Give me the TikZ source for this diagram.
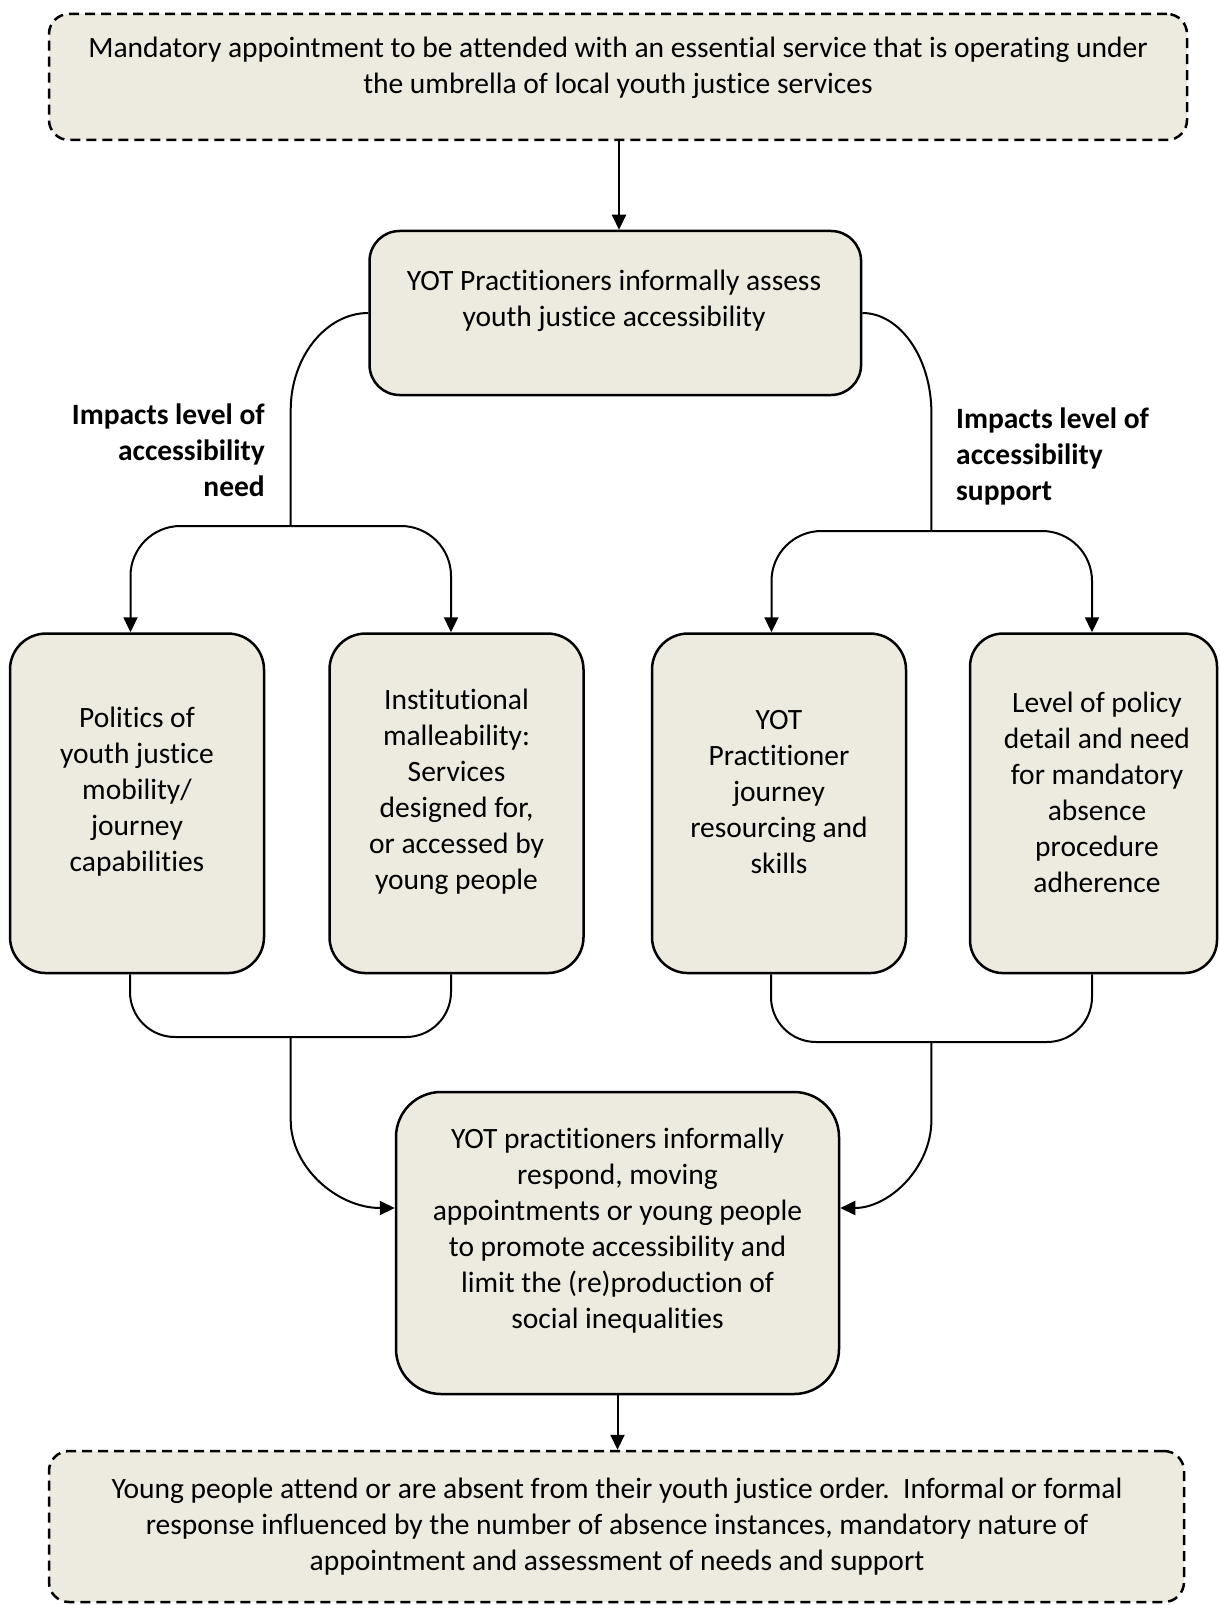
\documentclass[tikz,border=0pt]{standalone}
\usepackage{fontspec}
\setmainfont{Carlito}[Ligatures={NoCommon}]
\usetikzlibrary{arrows.meta}
\definecolor{boxfill}{RGB}{237,234,224}
\tikzset{
  boxbase/.style={draw=black, line width=2.5pt, fill=boxfill, inner sep=0pt},
  dashbox/.style={boxbase, rounded corners=20pt, dash pattern=on 10pt off 6pt},
  solidbox/.style={boxbase, rounded corners=#1},
  txt/.style={align=center, inner sep=0pt, font=\fontsize{29.5}{36}\selectfont},
  lbl/.style={inner sep=0pt, font=\bfseries\fontsize{29.5}{36}\selectfont},
  conn/.style={draw=black, line width=2pt},
  arr/.style={conn, -{Triangle[length=15pt,width=14pt]}},
}
\begin{document}
\begin{tikzpicture}[x=1pt,y=-1pt]
\useasboundingbox (0,0) rectangle (1219,1605);

% boxes
\node[dashbox, minimum width=1138pt, minimum height=126pt] (top) at (618,77) {};
\node[txt] (topT) at (618,67.5) {Mandatory appointment to be attended with an essential service that is operating under\\the umbrella of local youth justice services};

\node[solidbox=30pt, minimum width=491.5pt, minimum height=164pt] (assess) at (615.3,313) {};
\node[txt] (assessT) at (614,301) {YOT Practitioners informally assess\\youth justice accessibility};

\node[solidbox=36pt, minimum width=254pt, minimum height=339.5pt] (b1) at (137,803.3) {};
\node[txt] (b1T) at (137,792) {Politics of\\youth justice\\mobility/\\journey\\capabilities};

\node[solidbox=36pt, minimum width=254pt, minimum height=339.5pt] (b2) at (456.5,803.3) {};
\node[txt] (b2T) at (456.5,792) {Institutional\\malleability:\\Services\\designed for,\\or accessed by\\young people};

\node[solidbox=36pt, minimum width=254pt, minimum height=339.5pt] (b3) at (779,803.3) {};
\node[txt] (b3T) at (779,792) {YOT\\Practitioner\\journey\\resourcing and\\skills};

\node[solidbox=33pt, minimum width=247pt, minimum height=339.5pt] (b4) at (1093.5,803.3) {};
\node[txt] (b4T) at (1097,792) {Level of policy\\detail and need\\for mandatory\\absence\\procedure\\adherence};

\node[solidbox=45pt, minimum width=443pt, minimum height=302pt] (resp) at (617.5,1243) {};
\node[txt] (respT) at (617.5,1230.5) {YOT practitioners informally\\respond, moving\\appointments or young people\\to promote accessibility and\\limit the (re)production of\\social inequalities};

\node[dashbox, minimum width=1135pt, minimum height=151pt] (bot) at (616.5,1526.5) {};
\node[txt] (botT) at (617,1526.5) {Young people attend or are absent from their youth justice order.\ \ Informal or formal\\response influenced by the number of absence instances, mandatory nature of\\appointment and assessment of needs and support};

% labels
\node[lbl, align=right, anchor=east] (needL) at (265,450) {Impacts level of\\accessibility\\need};
\node[lbl, align=left, anchor=west] (supL) at (956,456.5) {Impacts level of\\accessibility\\support};

% junctions
\coordinate (jLa) at (290.7,410);
\coordinate (jL) at (290.7,526);
\coordinate (jRa) at (931.4,413);
\coordinate (jR) at (931.4,531);
\coordinate (kL) at (290.7,1037);
\coordinate (kLa) at (290.7,1120);
\coordinate (kR) at (931.4,1042);
\coordinate (kRa) at (931.4,1120);

% connectors
\draw[arr] ([xshift=1pt]top.south) -- ([xshift=1pt]top.south |- assess.north);
\draw[arr] (resp.south) -- (resp.south |- bot.north);

\draw[conn] (assess.west) .. controls (326,313) and (290.7,357) .. (jLa) -- (jL);
\draw[conn] (assess.east) .. controls (900,313) and (931.4,358) .. (jRa) -- (jR);

\draw[arr, rounded corners=50pt] (jL) -| ([xshift=-6.5pt]b1.north);
\draw[arr, rounded corners=50pt] (jL) -| ([xshift=-5.5pt]b2.north);
\draw[arr, rounded corners=50pt] (jR) -| ([xshift=-7.5pt]b3.north);
\draw[arr, rounded corners=50pt] (jR) -| ([xshift=-1.5pt]b4.north);

\draw[conn, rounded corners=45pt] ([xshift=-7pt]b1.south) |- (kL) -| ([xshift=-5.5pt]b2.south);
\draw[conn, rounded corners=45pt] ([xshift=-8pt]b3.south) |- (kR) -| ([xshift=-1.5pt]b4.south);

\draw[arr] (kL) -- (kLa) .. controls (290.7,1168) and (338,1208) .. ([yshift=35pt]resp.west);
\draw[arr] (kR) -- (kRa) .. controls (931.4,1168) and (889,1208) .. ([yshift=35pt]resp.east);
\end{tikzpicture}
\end{document}
